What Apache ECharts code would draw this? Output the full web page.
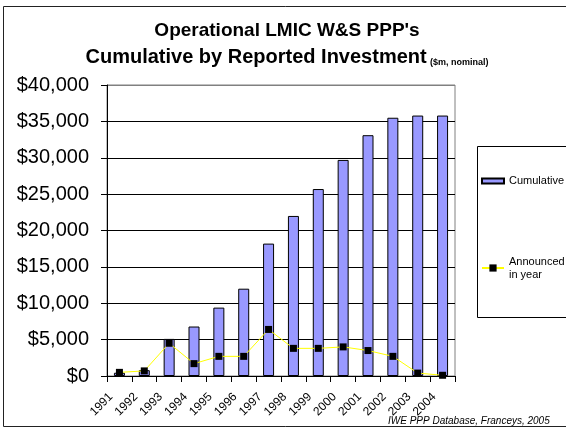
<!DOCTYPE html>
<html>
<head>
<meta charset="utf-8">
<title>Operational LMIC W&S PPP's</title>
<script src="https://cdn.jsdelivr.net/npm/echarts@6/dist/echarts.min.js"></script>
<style>
  html, body { margin: 0; padding: 0; background: #fff; }
  #chart { width: 566px; height: 430px; }
</style>
</head>
<body>
<div id="chart"></div>
<script>
// values ($m, nominal)
const years = ['1991', '1992', '1993', '1994', '1995', '1996', '1997',
  '1998', '1999', '2000', '2001', '2002', '2003', '2004']
const cumulative = [450, 800, 5100, 6800, 9400, 12000, 18200,
  22000, 25700, 29700, 33100, 35500, 35800, 35800]
const announced = [500, 700, 4500, 1700, 2700, 2700, 6400,
  3800, 3800, 4000, 3500, 2700, 400, 100]
const yTicks = [0, 5000, 10000, 15000, 20000, 25000, 30000, 35000, 40000]

const FONT = 'Arial, "Liberation Sans", sans-serif'

const chart = echarts.init(document.getElementById('chart'))

// every gridline black except the top one, which is the grey plot border
const gridColors = yTicks.map((v, i) => (i === yTicks.length - 1 ? '#808080' : '#000'))

const option = {
  animation: false,
  backgroundColor: '#fff',
  textStyle: { fontFamily: FONT },
  grid: {
    left: 107,
    top: 85,
    right: 111,
    bottom: 54,
    show: true,
    borderColor: '#808080',
    borderWidth: 1,
    backgroundColor: 'transparent'
  },
  legend: [
    {
      data: ['Cumulative'],
      left: 481,
      top: 175.5,
      padding: 0,
      icon: 'rect',
      itemWidth: 22,
      itemHeight: 5,
      textStyle: { fontSize: 11, color: '#000', fontFamily: FONT }
    },
    {
      data: ['Announced in year'],
      left: 481,
      top: 248.5,
      padding: 0,
      itemWidth: 22,
      itemHeight: 9,
      formatter: () => 'Announced\nin year',
      textStyle: {
        fontSize: 11,
        lineHeight: 13,
        color: '#000',
        fontFamily: FONT,
        padding: [13, 0, 0, 0]
      }
    }
  ],
  xAxis: {
    type: 'category',
    data: years,
    axisLine: { lineStyle: { color: '#000', width: 1 } },
    axisTick: { show: true, length: 6, lineStyle: { color: '#000' } },
    axisLabel: {
      rotate: 45,
      margin: 10.5,
      padding: [0, 12, 0, 0],
      fontSize: 12,
      color: '#000',
      fontFamily: FONT,
      interval: 0
    },
    splitLine: { show: false }
  },
  yAxis: {
    type: 'value',
    min: 0,
    max: 40000,
    interval: 5000,
    axisLine: { show: true, lineStyle: { color: '#000', width: 1 } },
    axisTick: { show: true, length: 6, lineStyle: { color: '#000' } },
    axisLabel: {
      margin: 18,
      fontSize: 20,
      color: '#000',
      fontFamily: FONT,
      formatter: v => '$' + v.toLocaleString('en-US')
    },
    splitLine: { show: true, lineStyle: { color: gridColors, width: 1 } }
  },
  series: [
    {
      name: 'Cumulative',
      type: 'bar',
      data: cumulative,
      barWidth: 11,
      itemStyle: { color: '#9999FF', borderColor: '#000', borderWidth: 1 }
    },
    {
      name: 'Announced in year',
      type: 'line',
      data: announced,
      symbol: 'rect',
      symbolSize: 7,
      z: 5,
      lineStyle: { color: '#FFFF00', width: 1 },
      itemStyle: { color: '#000' }
    }
  ],
  graphic: [
    // outer chart frame (right edge runs off the picture)
    {
      type: 'rect',
      shape: { x: 3.5, y: 6.5, width: 600, height: 420 },
      style: { fill: 'none', stroke: '#222', lineWidth: 1 },
      silent: true
    },
    // legend frame
    {
      type: 'rect',
      shape: { x: 477.5, y: 146.5, width: 120, height: 171 },
      style: { fill: 'none', stroke: '#000', lineWidth: 1 },
      silent: true
    },
    {
      type: 'text',
      x: 287,
      y: 31,
      style: {
        text: "Operational LMIC W&S PPP's",
        font: 'bold 19px ' + FONT,
        fill: '#000',
        align: 'center',
        verticalAlign: 'middle'
      }
    },
    {
      type: 'text',
      x: 287,
      y: 57,
      style: {
        text: '{a|Cumulative by Reported Investment} {b|($m, nominal)}',
        align: 'center',
        verticalAlign: 'middle',
        rich: {
          a: { fontSize: 20, fontWeight: 'bold', fontFamily: FONT, fill: '#000' },
          b: { fontSize: 9, fontWeight: 'bold', fontFamily: FONT, fill: '#000', verticalAlign: 'bottom' }
        }
      }
    },
    {
      type: 'text',
      x: 388,
      y: 421,
      style: {
        text: 'IWE PPP Database, Franceys, 2005',
        font: 'italic 10px ' + FONT,
        fill: '#000',
        align: 'left',
        verticalAlign: 'middle'
      }
    }
  ]
}

chart.setOption(option)
window.addEventListener('resize', () => chart.resize())
</script>
</body>
</html>
